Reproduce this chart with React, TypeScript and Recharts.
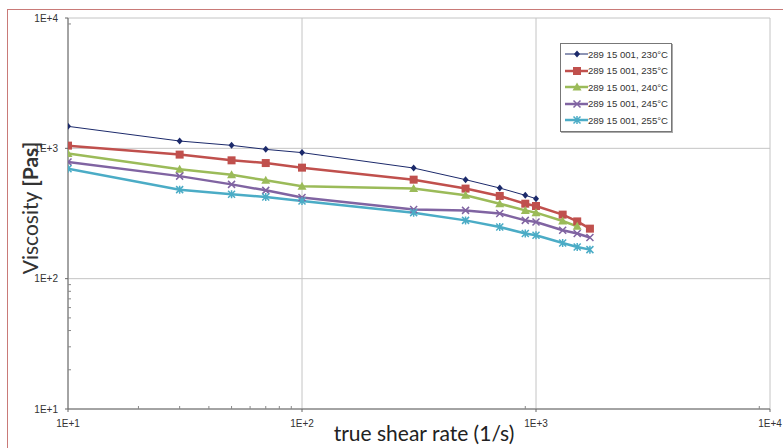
import { LineChart, Line, XAxis, YAxis, CartesianGrid, Legend } from 'recharts';

const shearRates = [10, 30, 50, 70, 100, 300, 500, 700, 900, 1000, 1300, 1500, 1700];
const visc230 = [1475, 1138, 1054, 982, 927, 706, 575, 496, 436, 411, null, null, null];
const visc235 = [1049, 895, 809, 771, 711, 575, 491, 431, 376, 361, 310, 275, 242];
const visc240 = [911, 690, 628, 568, 511, 491, 436, 376, 334, 321, 277, 252, null];
const visc245 = [785, 612, 529, 476, 419, 339, 334, 316, 280, 272, 235, 222, 207];
const visc255 = [698, 482, 444, 423, 394, 321, 280, 249, 222, 215, 188, 175, 167];

const majorTicks = [10, 100, 1000, 10000];
const minorTicks = [2, 3, 4, 5, 6, 7, 8, 9].flatMap(m => [m * 10, m * 100, m * 1000]);

const series = [
    { key: 'v230', name: '289 15 001, 230°C', color: '#1c2a6b', width: 1, shape: 'diamond', values: visc230 },
    { key: 'v235', name: '289 15 001, 235°C', color: '#c0504d', width: 2.5, shape: 'square', values: visc235 },
    { key: 'v240', name: '289 15 001, 240°C', color: '#9bbb59', width: 2.5, shape: 'triangle', values: visc240 },
    { key: 'v245', name: '289 15 001, 245°C', color: '#8064a2', width: 2.5, shape: 'cross', values: visc245 },
    { key: 'v255', name: '289 15 001, 255°C', color: '#4bacc6', width: 2.5, shape: 'star', values: visc255 },
];

const data = shearRates.map((rate, i) => {
    const row: any = { rate };
    series.forEach(s => { row[s.key] = s.values[i]; });
    return row;
});

const fmtExp = (v: number) => `1E+${Math.round(Math.log10(v))}`;

function Marker({ shape, color, cx, cy }: any) {
    if (cx == null || cy == null) return null;
    switch (shape) {
        case 'diamond':
            return <path d={`M${cx},${cy - 3.5}L${cx + 3},${cy}L${cx},${cy + 3.5}L${cx - 3},${cy}Z`} fill={color} />;
        case 'square':
            return <rect x={cx - 4} y={cy - 4} width={8} height={8} fill={color} />;
        case 'triangle':
            return <path d={`M${cx},${cy - 4.5}L${cx + 4.5},${cy + 3.5}L${cx - 4.5},${cy + 3.5}Z`} fill={color} />;
        case 'cross':
            return <path d={`M${cx - 3.5},${cy - 3.5}L${cx + 3.5},${cy + 3.5}M${cx + 3.5},${cy - 3.5}L${cx - 3.5},${cy + 3.5}`} stroke={color} strokeWidth={1.5} />;
        case 'star':
            return <path d={`M${cx - 3.5},${cy - 3.5}L${cx + 3.5},${cy + 3.5}M${cx + 3.5},${cy - 3.5}L${cx - 3.5},${cy + 3.5}M${cx},${cy - 4}L${cx},${cy + 4}`} stroke={color} strokeWidth={1.5} />;
        default:
            return null;
    }
}

const LegendBox = () => (
    <div style={{
        border: '1px solid #777',
        boxShadow: '1px 1px 0 #aaa',
        background: '#fff',
        padding: '2px 3px 2px 4px',
        width: 103,
    }}>
        {series.map(s => (
            <div key={s.key} style={{ display: 'flex', alignItems: 'center', height: 16.5 }}>
                <svg width={24} height={10}>
                    <line x1={0} y1={5} x2={24} y2={5} stroke={s.color} strokeWidth={s.width} />
                    <Marker shape={s.shape} color={s.color} cx={12} cy={5} />
                </svg>
                <span style={{ fontSize: 9.6, color: '#333', fontFamily: 'Liberation Sans, Arial, sans-serif', whiteSpace: 'nowrap' }}>{s.name}</span>
            </div>
        ))}
    </div>
);

export default function App() {
    return (
        <div style={{ position: 'absolute', left: 0, top: 0, width: 783, height: 448, background: '#fff', overflow: 'hidden' }}>
            <div style={{ position: 'absolute', left: 7, top: 9, width: 800, height: 460, border: '1px solid #c97a78', boxSizing: 'border-box' }} />
            <LineChart width={783} height={448} data={data} margin={{ top: 18, right: 13, bottom: 19, left: 8 }}>
                <CartesianGrid
                    stroke="#c4c4c4"
                    horizontalValues={majorTicks}
                    verticalValues={majorTicks}
                />
                <XAxis
                    dataKey="rate"
                    type="number"
                    scale="log"
                    domain={[10, 10000]}
                    ticks={majorTicks}
                    tickFormatter={fmtExp}
                    allowDataOverflow
                    height={20}
                    stroke="#666"
                    tickSize={3}
                    tickMargin={8}
                    tick={{ fontSize: 10, fill: '#333', fontFamily: 'Liberation Sans, Arial, sans-serif' }}
                />
                <XAxis
                    xAxisId="minor"
                    dataKey="rate"
                    type="number"
                    scale="log"
                    domain={[10, 10000]}
                    ticks={minorTicks}
                    tickFormatter={() => ''}
                    allowDataOverflow
                    mirror
                    axisLine={false}
                    stroke="#888"
                    tickSize={3}
                />
                <YAxis
                    type="number"
                    scale="log"
                    domain={[10, 10000]}
                    ticks={majorTicks}
                    tickFormatter={fmtExp}
                    allowDataOverflow
                    width={60}
                    stroke="#666"
                    tickSize={3}
                    tickMargin={7}
                    tick={{ fontSize: 10, fill: '#333', fontFamily: 'Liberation Sans, Arial, sans-serif' }}
                />
                <YAxis
                    yAxisId="minor"
                    type="number"
                    scale="log"
                    domain={[10, 10000]}
                    ticks={minorTicks}
                    tickFormatter={() => ''}
                    allowDataOverflow
                    mirror
                    axisLine={false}
                    stroke="#888"
                    tickSize={3}
                />
                <Legend
                    layout="vertical"
                    verticalAlign="middle"
                    align="center"
                    content={<LegendBox />}
                    wrapperStyle={{ top: 43, left: 560, width: 112 }}
                />
                {series.map(s => (
                    <Line
                        key={s.key}
                        dataKey={s.key}
                        name={s.name}
                        stroke={s.color}
                        strokeWidth={s.width}
                        dot={(p: any) => <Marker key={`${s.key}-${p.index}`} shape={s.shape} color={s.color} cx={p.cx} cy={p.cy} />}
                        activeDot={false}
                        isAnimationActive={false}
                    />
                ))}
            </LineChart>
            <div style={{
                position: 'absolute', left: 29, top: 208, transform: 'translate(-50%, -50%) rotate(-90deg)',
                fontSize: 21, color: '#333', fontFamily: 'Lato, sans-serif', whiteSpace: 'nowrap',
            }}>
                Viscosity <b>[Pas]</b>
            </div>
            <div style={{
                position: 'absolute', left: 424, top: 432, transform: 'translate(-50%, -50%)',
                fontSize: 21, color: '#222', fontFamily: 'Lato, sans-serif', whiteSpace: 'nowrap',
            }}>
                true shear rate (1/s)
            </div>
        </div>
    );
}
